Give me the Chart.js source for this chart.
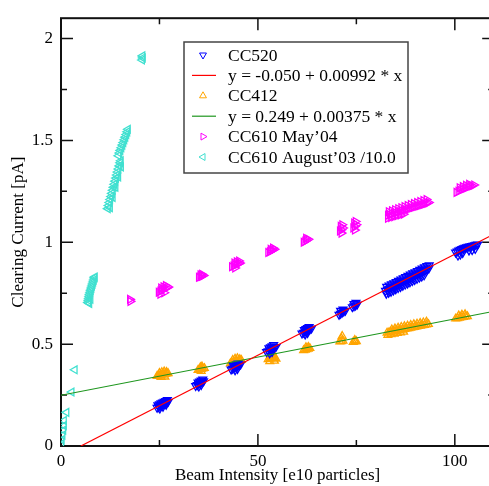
<!DOCTYPE html>
<html>
<head>
<meta charset="utf-8">
<script src="https://cdn.jsdelivr.net/npm/chart.js@4.4.1/dist/chart.umd.min.js"></script>
<style>
  body { margin: 0; background: #fff; }
  #wrap { width: 489px; height: 486px; overflow: hidden; }
</style>
</head>
<body>
<div id="wrap"><canvas id="clearingChart" width="500" height="486"></canvas></div>
<script>
// axis ticks
const xTicks = [0, 50, 100];
const xMinor = [25, 75];
const yTicks = [0, 0.5, 1, 1.5, 2];
const yMinor = [0.25, 0.75, 1.25, 1.75];

// CC520
const cc520X = [
  24.4, 24.8, 25.2, 25.6, 26.0, 26.4, 26.8, 27.2, 24.6, 25.0, 25.4, 25.8, 26.2, 26.6, 27.0, 25.1, 25.9, 26.7,
  34.2, 34.6, 35.0, 35.4, 35.8, 36.2, 34.8, 35.2, 35.6, 36.0, 35.0, 35.6,
  43.2, 43.6, 44.0, 44.4, 44.8, 45.2, 45.6, 43.8, 44.2, 44.6, 45.0, 44.2, 44.8,
  52.2, 52.6, 53.0, 53.4, 53.8, 54.2, 54.6, 52.8, 53.2, 53.6, 54.0, 53.0, 53.6,
  61.2, 61.6, 62.0, 62.4, 62.8, 63.2, 63.6, 61.8, 62.2, 62.6, 63.0, 62.0, 62.6,
  70.6, 71.0, 71.4, 71.8, 72.2, 71.0, 71.6,
  74.0, 74.4, 74.8, 75.2, 74.4, 74.9,
  82.4, 82.9, 83.4, 83.9, 84.4, 84.9, 85.4, 85.9, 86.4, 86.9, 87.4, 87.9, 88.4, 88.9, 89.4, 89.9, 90.4, 90.9, 91.4, 91.9, 92.4, 92.9, 93.4,
  82.7, 83.3, 83.9, 84.5, 85.1, 85.7, 86.3, 86.9, 87.5, 88.1, 88.7, 89.3, 89.9, 90.5, 91.1, 91.7, 92.3, 92.9, 93.5,
  82.6, 83.2, 83.8, 84.4, 85.0, 85.6, 86.2, 86.8, 87.4, 88.0, 88.6, 89.2, 89.8, 90.4, 91.0, 91.6, 92.2,
  100.2, 100.6, 101.0, 101.4, 101.8, 102.2, 102.6, 103.0, 103.4, 103.8, 104.2, 104.6, 105.0, 105.4, 105.8, 100.8, 101.4, 102.0, 103.6, 104.4, 105.2];
const cc520Y = [
  0.188, 0.192, 0.197, 0.200, 0.205, 0.209, 0.213, 0.217, 0.200, 0.205, 0.210, 0.214, 0.218, 0.222, 0.226, 0.184, 0.193, 0.203,
  0.295, 0.300, 0.305, 0.309, 0.314, 0.318, 0.312, 0.317, 0.322, 0.327, 0.292, 0.300,
  0.376, 0.380, 0.384, 0.388, 0.392, 0.396, 0.400, 0.393, 0.397, 0.401, 0.405, 0.372, 0.378,
  0.462, 0.466, 0.470, 0.475, 0.479, 0.483, 0.487, 0.480, 0.485, 0.490, 0.496, 0.455, 0.462,
  0.553, 0.557, 0.561, 0.565, 0.569, 0.573, 0.577, 0.570, 0.575, 0.580, 0.585, 0.548, 0.555,
  0.645, 0.650, 0.655, 0.660, 0.664, 0.664, 0.670,
  0.682, 0.686, 0.690, 0.695, 0.698, 0.704,
  0.762, 0.767, 0.772, 0.777, 0.782, 0.787, 0.792, 0.797, 0.802, 0.807, 0.812, 0.817, 0.822, 0.827, 0.832, 0.837, 0.842, 0.847, 0.852, 0.857, 0.862, 0.867, 0.872,
  0.782, 0.788, 0.794, 0.800, 0.806, 0.812, 0.818, 0.824, 0.830, 0.836, 0.842, 0.848, 0.854, 0.860, 0.866, 0.872, 0.878, 0.884, 0.888,
  0.748, 0.753, 0.758, 0.764, 0.770, 0.776, 0.781, 0.787, 0.793, 0.798, 0.804, 0.810, 0.815, 0.821, 0.827, 0.832, 0.838,
  0.950, 0.955, 0.960, 0.964, 0.968, 0.971, 0.974, 0.976, 0.978, 0.980, 0.982, 0.984, 0.986, 0.988, 0.990, 0.935, 0.940, 0.948, 0.960, 0.962, 0.968];

// CC412
const cc412X = [
  24.4, 24.8, 25.2, 25.6, 26.0, 26.4, 26.8, 27.2, 25.0, 25.6, 26.2, 26.8, 25.4, 26.4,
  34.8, 35.2, 35.6, 36.0, 36.4, 35.4, 35.8, 35.6,
  43.0, 43.4, 43.8, 44.2, 44.6, 45.0, 45.4, 45.8, 43.6, 44.2, 44.8, 45.4, 44.0, 44.8,
  52.6, 53.0, 53.4, 53.8, 54.2, 54.6, 53.2, 53.6, 54.0, 53.6, 53.0, 54.2,
  61.6, 62.0, 62.4, 62.8, 63.2, 62.2, 62.8,
  70.8, 71.2, 71.6, 71.2, 71.4,
  74.2, 74.6, 75.0, 74.6,
  82.8, 83.3, 83.8, 84.3, 84.8, 85.3, 85.8, 86.3, 86.8, 87.3, 87.8, 88.3, 88.8, 89.3, 89.8, 90.3, 90.8, 91.3, 91.8, 92.3, 92.8, 93.3,
  84.0, 84.8, 85.6, 86.4, 87.2, 88.0, 88.8, 89.6, 90.4, 91.2, 92.0, 92.8,
  83.0, 83.8, 84.6, 85.4, 86.2, 87.0,
  100.2, 100.7, 101.2, 101.7, 102.2, 102.7, 103.2, 101.0, 101.8, 102.6];
const cc412Y = [
  0.343, 0.345, 0.347, 0.349, 0.351, 0.353, 0.355, 0.357, 0.358, 0.362, 0.365, 0.363, 0.338, 0.340,
  0.373, 0.376, 0.378, 0.380, 0.382, 0.386, 0.390, 0.368,
  0.405, 0.408, 0.411, 0.414, 0.416, 0.418, 0.420, 0.422, 0.422, 0.428, 0.430, 0.426, 0.398, 0.400,
  0.425, 0.428, 0.432, 0.435, 0.432, 0.428, 0.442, 0.450, 0.444, 0.462, 0.415, 0.418,
  0.470, 0.472, 0.475, 0.477, 0.480, 0.484, 0.486,
  0.512, 0.514, 0.516, 0.528, 0.540,
  0.510, 0.512, 0.514, 0.520,
  0.556, 0.558, 0.560, 0.562, 0.564, 0.566, 0.568, 0.570, 0.572, 0.574, 0.576, 0.578, 0.580, 0.582, 0.584, 0.586, 0.588, 0.590, 0.592, 0.594, 0.596, 0.598,
  0.572, 0.576, 0.580, 0.584, 0.587, 0.590, 0.594, 0.597, 0.600, 0.603, 0.606, 0.610,
  0.545, 0.548, 0.551, 0.554, 0.557, 0.560,
  0.625, 0.627, 0.629, 0.631, 0.633, 0.635, 0.637, 0.640, 0.644, 0.646];

// CC610 May'04
const cc610MayX = [
  17.5, 17.6,
  24.8, 25.2, 25.6, 26.0, 26.4, 26.8, 27.2, 25.4, 26.0, 26.6, 25.2, 26.2,
  35.0, 35.4, 35.8, 36.2, 35.4, 35.8,
  43.4, 43.8, 44.2, 44.6, 45.0, 45.4, 44.0, 44.6, 45.2, 44.2,
  52.6, 53.0, 53.4, 53.8, 54.2, 53.2, 53.8,
  61.6, 62.0, 62.4, 62.8, 62.2,
  70.8, 71.2, 71.6, 71.0, 71.4, 71.2,
  74.2, 74.6, 75.0, 74.4, 74.8, 74.6,
  83.0, 83.5, 84.0, 84.5, 85.0, 85.5, 86.0, 86.5, 87.0, 87.5, 88.0, 88.5, 89.0, 89.5, 90.0, 90.5, 91.0, 91.5, 92.0, 92.5, 93.0, 93.4,
  83.2, 84.0, 84.8, 85.6, 86.4, 87.2, 88.0, 88.8, 89.6, 90.4, 91.2, 92.0, 92.8,
  83.0, 83.8, 84.6, 85.4, 86.2, 87.0,
  100.4, 100.9, 101.4, 101.9, 102.4, 102.9, 103.4, 103.9, 104.4, 104.9, 101.2, 102.0, 102.8, 103.6];
const cc610MayY = [
  0.720, 0.710,
  0.755, 0.760, 0.764, 0.768, 0.772, 0.776, 0.780, 0.775, 0.782, 0.788, 0.745, 0.752,
  0.828, 0.831, 0.834, 0.837, 0.840, 0.843,
  0.880, 0.884, 0.888, 0.891, 0.894, 0.898, 0.898, 0.904, 0.908, 0.874,
  0.950, 0.954, 0.958, 0.962, 0.966, 0.966, 0.972,
  1.000, 1.005, 1.010, 1.015, 1.020,
  1.055, 1.062, 1.070, 1.078, 1.086, 1.045,
  1.070, 1.078, 1.086, 1.094, 1.102, 1.060,
  1.132, 1.135, 1.138, 1.141, 1.144, 1.147, 1.150, 1.153, 1.156, 1.159, 1.162, 1.165, 1.168, 1.171, 1.174, 1.177, 1.180, 1.183, 1.186, 1.189, 1.192, 1.195,
  1.150, 1.155, 1.160, 1.165, 1.170, 1.175, 1.180, 1.185, 1.190, 1.195, 1.200, 1.205, 1.210,
  1.118, 1.122, 1.126, 1.130, 1.134, 1.138,
  1.245, 1.250, 1.255, 1.259, 1.263, 1.267, 1.271, 1.275, 1.278, 1.281, 1.268, 1.274, 1.280, 1.285];

// CC610 August'03, current divided by 10
const cc610AugX = [
  0.05, 0.2, 0.4, 0.6, 0.76, 0.76, 1.4, 2.7, 3.5,
  6.9, 7.0, 7.1, 7.2, 7.3, 7.45, 7.6, 7.75, 7.9, 8.05, 8.2, 8.35, 8.5, 8.6, 7.2, 7.5,
  11.9, 12.1, 12.3, 12.5, 12.75, 12.95, 13.15, 13.35, 13.55, 13.8, 14.0, 14.2, 14.4, 14.6, 14.85, 15.05, 15.2,
  12.45, 13.15, 13.85, 14.55, 15.25,
  14.6, 14.85, 15.1, 15.35, 15.6, 15.85, 16.1, 16.35, 16.6, 16.85, 17.0,
  20.6, 20.8, 20.7];
const cc610AugY = [
  0.010, 0.030, 0.053, 0.077, 0.100, 0.125, 0.165, 0.265, 0.374,
  0.705, 0.715, 0.725, 0.735, 0.745, 0.755, 0.765, 0.775, 0.785, 0.795, 0.805, 0.815, 0.825, 0.830, 0.700, 0.720,
  1.165, 1.180, 1.195, 1.210, 1.225, 1.240, 1.255, 1.270, 1.285, 1.300, 1.315, 1.330, 1.345, 1.360, 1.375, 1.390, 1.400,
  1.170, 1.220, 1.270, 1.320, 1.370,
  1.425, 1.438, 1.451, 1.464, 1.477, 1.490, 1.503, 1.516, 1.529, 1.542, 1.555,
  1.895, 1.905, 1.915];

// linear fits (end points)
const fit520X = [5.04, 110];
const fit520Y = [0, 1.041];
const fit412X = [0, 110];
const fit412Y = [0.249, 0.6615];

const legendLabels = ['CC520', 'y = -0.050 + 0.00992 * x', 'CC412',
  'y = 0.249 + 0.00375 * x', 'CC610 May\u201904', 'CC610 August\u201903 /10.0'];

const toPoints = (xs, ys) => xs.map((x, i) => ({ x: x, y: ys[i] }));
const serif = '"Liberation Serif", "DejaVu Serif", serif';

function scatterSet(label, xs, ys, color, rotation) {
  return {
    label: label,
    data: toPoints(xs, ys),
    pointStyle: 'triangle',
    rotation: rotation,
    pointRadius: 4.5,
    borderWidth: 1.3,
    borderColor: color,
    backgroundColor: 'rgba(0,0,0,0)',
    showLine: false,
    order: 2
  };
}

function fitSet(label, xs, ys, color) {
  return {
    label: label,
    data: toPoints(xs, ys),
    showLine: true,
    pointRadius: 0,
    borderWidth: 1.2,
    borderColor: color,
    fill: false,
    order: 1
  };
}

const datasets = [
  scatterSet(legendLabels[0], cc520X, cc520Y, '#0000ff', 180),
  fitSet(legendLabels[1], fit520X, fit520Y, '#ff0000'),
  scatterSet(legendLabels[2], cc412X, cc412Y, '#ffa500', 0),
  fitSet(legendLabels[3], fit412X, fit412Y, '#1e961e'),
  scatterSet(legendLabels[4], cc610MayX, cc610MayY, '#ff00ff', 90),
  scatterSet(legendLabels[5], cc610AugX, cc610AugY, '#40e0d0', 270)
];

// frame with inward ticks on all four sides
const framePlugin = {
  id: 'frame',
  beforeDatasetsDraw(chart) {
    const { ctx, chartArea: a, scales } = chart;
    ctx.save();
    ctx.strokeStyle = '#111';
    ctx.lineWidth = 1.5;
    ctx.beginPath();
    const tick = (vals, len) => {
      vals.forEach(v => {
        const px = scales.x.getPixelForValue(v);
        ctx.moveTo(px, a.bottom); ctx.lineTo(px, a.bottom - len);
        ctx.moveTo(px, a.top); ctx.lineTo(px, a.top + len);
      });
    };
    const tickY = (vals, len) => {
      vals.forEach(v => {
        const py = scales.y.getPixelForValue(v);
        ctx.moveTo(a.left, py); ctx.lineTo(a.left + len, py);
        ctx.moveTo(a.right, py); ctx.lineTo(a.right - len, py);
      });
    };
    tick(xTicks, 12); tick(xMinor, 6);
    tickY(yTicks, 12); tickY(yMinor, 6);
    ctx.stroke();
    ctx.lineWidth = 2;
    ctx.strokeRect(a.left, a.top, a.right - a.left, a.bottom - a.top);
    ctx.restore();
  }
};

// boxed legend inside the plot
const boxLegend = {
  id: 'boxLegend',
  afterDraw(chart) {
    const ctx = chart.ctx;
    const box = { x: 184, y: 42, w: 224, h: 131 };
    ctx.save();
    ctx.fillStyle = '#fff';
    ctx.fillRect(box.x, box.y, box.w, box.h);
    ctx.strokeStyle = '#444';
    ctx.lineWidth = 1.5;
    ctx.strokeRect(box.x, box.y, box.w, box.h);
    ctx.font = '17.5px ' + serif;
    ctx.textBaseline = 'middle';
    chart.data.datasets.forEach((ds, i) => {
      const cy = 55 + i * 20.4;
      if (ds.showLine) {
        ctx.strokeStyle = ds.borderColor;
        ctx.lineWidth = ds.borderWidth;
        ctx.beginPath();
        ctx.moveTo(192, cy); ctx.lineTo(216, cy);
        ctx.stroke();
      } else {
        ctx.strokeStyle = ds.borderColor;
        ctx.fillStyle = 'rgba(0,0,0,0)';
        ctx.lineWidth = 1;
        Chart.helpers.drawPoint(ctx, { pointStyle: 'triangle', radius: 4, rotation: ds.rotation, borderWidth: 1 }, 203, cy);
      }
      ctx.fillStyle = '#000';
      ctx.fillText(ds.label, 228, cy + 1);
    });
    ctx.restore();
  }
};

const ctx = document.getElementById('clearingChart').getContext('2d');
new Chart(ctx, {
  type: 'scatter',
  data: { datasets: datasets },
  options: {
    responsive: false,
    animation: false,
    layout: { padding: { top: 11, right: 5, left: 0, bottom: 0 } },
    plugins: { legend: { display: false }, tooltip: { enabled: false } },
    scales: {
      x: {
        type: 'linear', min: 0, max: 110,
        afterBuildTicks: s => { s.ticks = xTicks.map(v => ({ value: v })); },
        afterFit: s => { s.height = 40; },
        grid: { display: false, drawTicks: false },
        border: { display: false },
        ticks: { color: '#000', font: { family: serif, size: 17 }, padding: 5, maxRotation: 0,
          callback: v => String(v) },
        title: { display: true, text: 'Beam Intensity [e10 particles]', color: '#000',
          font: { family: serif, size: 17 }, padding: { top: 0, bottom: 0 } }
      },
      y: {
        type: 'linear', min: 0, max: 2.1,
        afterBuildTicks: s => { s.ticks = yTicks.map(v => ({ value: v })); },
        afterFit: s => { s.width = 61; },
        grid: { display: false, drawTicks: false },
        border: { display: false },
        ticks: { color: '#000', font: { family: serif, size: 17 }, padding: 8,
          callback: v => String(v) },
        title: { display: true, text: 'Clearing Current [pA]', color: '#000',
          font: { family: serif, size: 17 }, padding: { top: 8, bottom: 0 } }
      }
    }
  },
  plugins: [framePlugin, boxLegend]
});
</script>
</body>
</html>
